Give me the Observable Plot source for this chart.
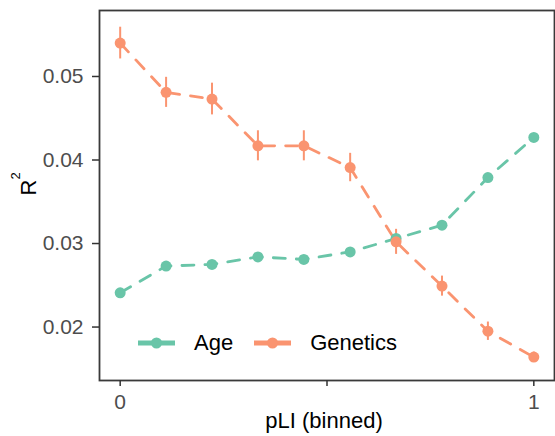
<!DOCTYPE html>
<html>
<head>
<meta charset="utf-8">
<script src="https://cdn.jsdelivr.net/npm/d3@7"></script>
<script src="https://cdn.jsdelivr.net/npm/@observablehq/plot@0.6"></script>
<style>
  html, body { margin: 0; padding: 0; background: #fff; }
  #wrap { position: relative; width: 555px; height: 436px; font-family: "Liberation Sans", Arial, sans-serif; }
  #legend { position: absolute; left: 138px; top: 330px; display: flex; align-items: center; font-size: 22px; color: #000; }
  #legend .item { display: flex; align-items: center; margin-right: 21px; }
  #legend svg { margin-right: 19px; }
</style>
</head>
<body>
<div id="wrap"></div>
<script>
const pli = [0, 0.111, 0.222, 0.333, 0.444, 0.556, 0.667, 0.778, 0.889, 1];
const ageR2 = [0.0241, 0.0273, 0.0275, 0.0284, 0.0281, 0.0290, 0.0306, 0.0322, 0.0379, 0.0427];
const ageSE = [0.0003, 0.0002, 0.0002, 0.0002, 0.0002, 0.0002, 0.0002, 0.0002, 0.0003, 0.0003];
const genR2 = [0.0540, 0.0481, 0.0473, 0.0417, 0.0417, 0.0391, 0.0302, 0.0249, 0.0195, 0.0164];
const genSE = [0.0019, 0.0018, 0.0019, 0.0018, 0.0018, 0.0017, 0.0015, 0.0012, 0.0011, 0.0006];
const seriesNames = ["Age", "Genetics"];
const seriesColors = ["#69C5A8", "#FA9470"];
const yTicks = [0.02, 0.03, 0.04, 0.05];
const xTicks = [0, 0.5, 1];
const xTickLabels = ["0", "", "1"];

const data = [];
pli.forEach((x, i) => data.push({x, y: ageR2[i], se: ageSE[i], s: "Age"}));
pli.forEach((x, i) => data.push({x, y: genR2[i], se: genSE[i], s: "Genetics"}));

const chart = Plot.plot({
  width: 555,
  height: 436,
  marginLeft: 99,
  marginRight: 1,
  marginTop: 10,
  marginBottom: 56,
  style: {fontFamily: "Liberation Sans, Arial, sans-serif", fontSize: "21px", background: "#fff"},
  x: {domain: [-0.05, 1.05]},
  y: {domain: [0.0136, 0.0579]},
  color: {domain: seriesNames, range: seriesColors},
  marks: [
    Plot.line(data, {x: "x", y: "y", z: "s", stroke: "s", strokeWidth: 2.8, strokeDasharray: "12,11"}),
    Plot.ruleX(data, {x: "x", y1: d => d.y - d.se, y2: d => d.y + d.se, stroke: "s", strokeWidth: 2}),
    Plot.dot(data, {x: "x", y: "y", fill: "s", r: 5.5}),
    Plot.frame({stroke: "#3a3a3a", strokeWidth: 1.8}),
    Plot.axisY(yTicks, {tickSize: 7, tickPadding: 9, fontSize: 21, fill: "#4d4d4d", stroke: "#333", strokeWidth: 1.5, tickFormat: d => d.toFixed(2), label: null}),
    Plot.axisX(xTicks, {tickSize: 6, tickPadding: 8, fontSize: 21, fill: "#4d4d4d", stroke: "#333", strokeWidth: 1.5, tickFormat: (d, i) => xTickLabels[i], label: null}),
    Plot.text(["pLI (binned)"], {frameAnchor: "bottom", dx: -3, dy: 47, fontSize: 22, fill: "#000"}),
    Plot.text(["R²"], {frameAnchor: "left", dx: -71, rotate: -90, fontSize: 22, fill: "#000"})
  ]
});
const wrap = document.getElementById("wrap");
wrap.appendChild(chart);

// render the exponent as a raised superscript, like plotmath
chart.querySelectorAll("text").forEach(t => {
  if (t.textContent === "R²") {
    t.textContent = "R";
    const sup = document.createElementNS("http://www.w3.org/2000/svg", "tspan");
    sup.setAttribute("dy", "-16");
    sup.setAttribute("font-size", "13");
    sup.textContent = "2";
    t.appendChild(sup);
  }
});

const legend = document.createElement("div");
legend.id = "legend";
seriesNames.forEach((name, i) => {
  const item = document.createElement("div");
  item.className = "item";
  item.innerHTML = `<svg width="37" height="14"><line x1="0" x2="37" y1="7" y2="7" stroke="${seriesColors[i]}" stroke-width="5"/><circle cx="18.5" cy="7" r="5.5" fill="${seriesColors[i]}"/></svg><span>${name}</span>`;
  legend.appendChild(item);
});
wrap.appendChild(legend);
</script>
</body>
</html>
